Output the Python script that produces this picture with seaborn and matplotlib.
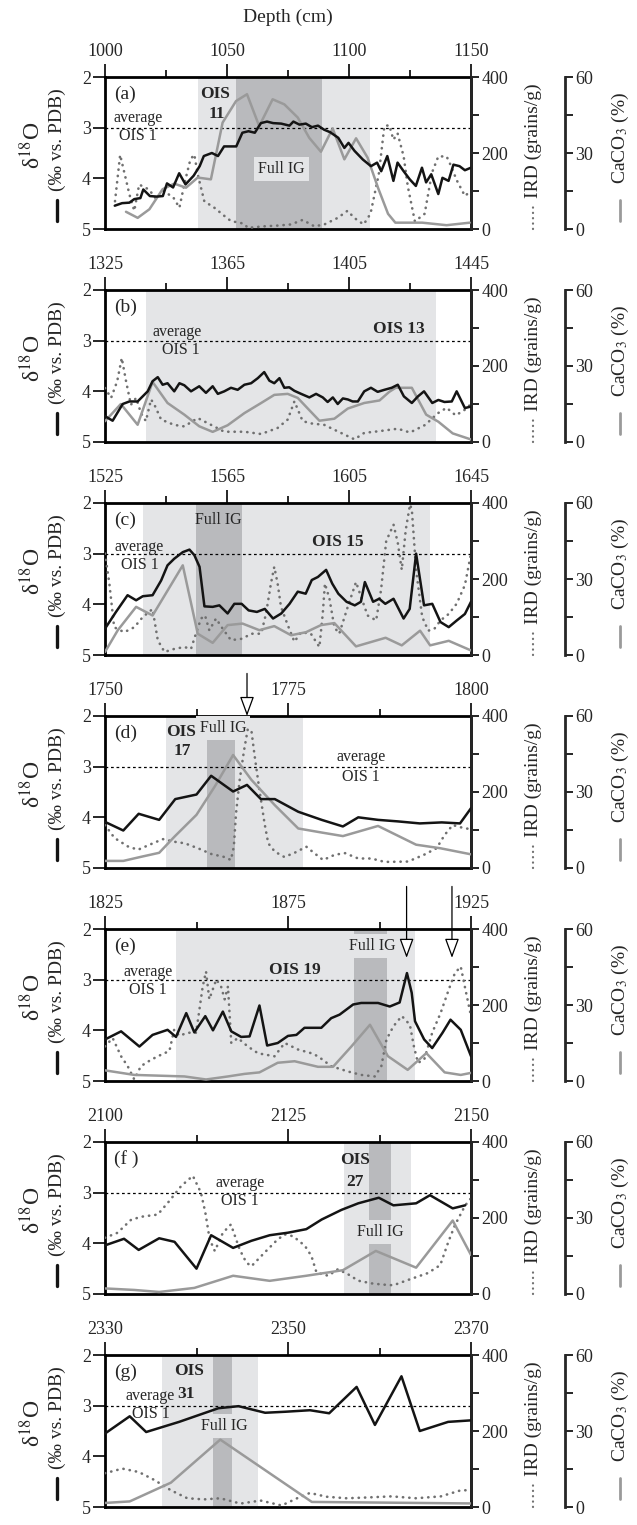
import matplotlib
matplotlib.use("Agg")
import matplotlib.pyplot as plt
import seaborn as sns

# ===== DATA =====
avg_ois1 = 3.0  # average OIS 1 d18O

# --- panel (a)
d18_depth_a = [1004, 1007, 1010, 1012, 1014.5, 1015.7, 1018.4, 1021.2, 1023.7, 1025.4, 1027.9, 1030.4, 1033,
               1036.3, 1038.8, 1040.5, 1043.8, 1046.3, 1048.8, 1053.8, 1056.3, 1058.8, 1061.4, 1063.9, 1066.4,
               1068.9, 1072.2, 1075.6, 1077.2, 1079.7, 1082.3, 1084.8, 1087.3, 1089.8, 1092.3, 1095.6, 1098.1,
               1099.8, 1102.3, 1105.7, 1109, 1111.5, 1113.2, 1115.7, 1118.2, 1119.9, 1122.4, 1124.9, 1127.4,
               1129.9, 1131.6, 1133.7, 1136.6, 1138.3, 1140.8, 1142.8, 1145.3, 1147.5, 1150]
d18_a = [4.54, 4.49, 4.48, 4.41, 4.39, 4.22, 4.35, 4.36, 4.35, 4.10, 4.18, 3.90, 4.12, 3.95, 3.76, 3.56, 3.50,
         3.56, 3.37, 3.37, 3.10, 3.07, 3.10, 2.91, 2.88, 2.91, 2.92, 2.96, 2.88, 2.94, 2.92, 2.99, 2.96, 3.04,
         3.09, 3.20, 3.40, 3.30, 3.46, 3.63, 3.76, 3.69, 3.86, 3.56, 4.05, 3.69, 3.86, 4.02, 4.15, 3.79, 4.08,
         3.92, 4.31, 3.99, 4.05, 3.73, 3.76, 3.84, 3.79]
cc_depth_a = [1008.6, 1013.4, 1018.2, 1023.6, 1028.4, 1033.2, 1038, 1043.4, 1048.2, 1053.7, 1058.2, 1063.2,
              1068.7, 1073.5, 1079, 1083.7, 1088.5, 1093.3, 1098.1, 1102.9, 1107.6, 1112, 1116, 1119, 1130,
              1140, 1149.5]
cc_a = [6.8, 4.4, 7.8, 15.7, 17.9, 16.3, 20.3, 19.6, 42, 50.5, 53.2, 40.6, 51.2, 49.2, 44, 36, 30.5, 39.7,
        27.5, 35.8, 28.2, 16, 6, 2.5, 2.5, 1.5, 2.5]
ird_depth_a = [1004.1, 1006.2, 1008.6, 1010, 1012, 1014, 1018, 1021, 1024, 1028, 1030.5, 1032.5, 1035, 1036.6,
               1038, 1040.7, 1044.8, 1049, 1051.6, 1057, 1058.5, 1065, 1070.8, 1076.2, 1081, 1085.8, 1089.9,
               1095.3, 1099.4, 1102.2, 1106, 1108.8, 1112.2, 1114.5, 1116.5, 1118.2, 1119.9, 1122.4, 1124.1,
               1127, 1131, 1134, 1136.6, 1140, 1141.6, 1144.1, 1147.5, 1150]
ird_a = [73, 195, 130, 91, 48, 117, 104, 79, 100, 83, 56, 118, 183, 196, 144, 73, 56, 34, 21, 14, 3, 7, 9, 12,
         24, 7, 12, 29, 48, 29, 12, 40, 144, 271, 273, 235, 252, 191, 112, 20, 40, 148, 191, 191, 169, 129,
         87, 100]
ois_a, full_a = (1038, 1108.5), (1053.5, 1089)

# --- panel (b)
d18_depth_b = [1325, 1327.5, 1330.8, 1333, 1335.7, 1339, 1340.6, 1342.3, 1343.9, 1345.5, 1347.7, 1349.4, 1351,
               1353.2, 1355.9, 1358.1, 1360.3, 1362, 1364.1, 1366.3, 1368.5, 1370.7, 1372.9, 1375.1, 1377.2,
               1378.9, 1380.5, 1382.2, 1383.8, 1385.4, 1387.1, 1389.3, 1392, 1394.2, 1396.4, 1398, 1399.7,
               1401.3, 1403, 1404.6, 1406.2, 1407.9, 1410, 1412.2, 1414.4, 1416.6, 1419, 1421, 1423, 1425.6,
               1427.6, 1429.6, 1432.3, 1434.3, 1436.3, 1438.7, 1440.3, 1443, 1445]
d18_b = [4.49, 4.58, 4.25, 4.20, 4.20, 4.0, 3.80, 3.72, 3.87, 3.84, 4.0, 3.84, 3.88, 4.0, 3.90, 4.03, 3.90,
         4.05, 4.0, 3.93, 3.97, 3.87, 3.84, 3.74, 3.62, 3.79, 3.84, 3.74, 3.93, 3.92, 3.99, 4.05, 4.12, 4.05,
         4.12, 4.21, 4.12, 4.25, 4.14, 4.16, 4.20, 4.20, 4.0, 3.93, 4.01, 3.97, 3.93, 3.87, 4.10, 4.23, 4.10,
         4.0, 4.23, 4.17, 4.21, 4.20, 4.0, 4.33, 4.30]
cc_depth_b = [1325, 1330.2, 1335.7, 1340.6, 1345.5, 1351, 1355.9, 1360.3, 1365.2, 1370.7, 1376.2, 1380.5,
              1384.9, 1388.2, 1391.5, 1395.3, 1400.2, 1404.6, 1410, 1415, 1418.2, 1420.3, 1425.6, 1430.3,
              1434.3, 1439, 1445]
cc_b = [8.2, 15, 6.8, 23.7, 15.4, 10.8, 6.2, 4, 6.6, 11.4, 15.4, 18.6, 19, 17.4, 13.2, 8.4, 9.2, 13.2, 15.4,
        16.4, 19.8, 21.4, 21.4, 10.8, 8, 3.4, 1]
ird_depth_b = [1325, 1327, 1329, 1330.5, 1331.9, 1333.5, 1335.2, 1336.8, 1338.4, 1340.1, 1341.2, 1343.4, 1347.7,
               1351, 1355.4, 1359.8, 1364.1, 1370.7, 1376.2, 1381.6, 1384.9, 1387.1, 1389.8, 1392.5, 1396.9,
               1401.3, 1406.8, 1410, 1414.4, 1418.2, 1421, 1425, 1430, 1434, 1437, 1440, 1443, 1445]
ird_b = [142, 116, 160, 221, 160, 98, 116, 76, 55, 112, 98, 59, 45, 41, 63, 45, 27, 27, 21, 37, 59, 107, 55,
         49, 45, 28, 7, 24, 28, 32, 35, 25, 45, 75, 90, 70, 85, 100]
ois_b, full_b = (1338.6, 1433.6), None

# --- panel (c)
d18_depth_c = [1525, 1528.6, 1532.4, 1535.2, 1537.4, 1540.6, 1543.4, 1545.5, 1547.7, 1550.5, 1552.7, 1554.3,
               1556, 1557.6, 1560.3, 1562.5, 1565.2, 1567.4, 1569.8, 1572.1, 1574.8, 1577.4, 1580.1, 1582.8,
               1585.5, 1588.2, 1590.8, 1592.8, 1594.8, 1597.5, 1599.5, 1601.5, 1604.2, 1606.9, 1608.9, 1610.2,
               1612.9, 1614.9, 1616.9, 1619.6, 1622.9, 1624.9, 1627, 1629.6, 1632.3, 1635, 1637.7, 1640.3,
               1643, 1645]
d18_c = [4.48, 4.15, 3.82, 3.92, 3.84, 3.82, 3.53, 3.23, 3.10, 2.97, 2.92, 3.03, 3.26, 4.04, 4.05, 4.02, 4.18,
         3.99, 3.99, 4.12, 4.15, 4.09, 4.28, 4.18, 3.99, 3.75, 3.79, 3.52, 3.46, 3.32, 3.59, 3.79, 3.95, 4.02,
         3.95, 3.56, 3.95, 3.89, 3.99, 3.89, 4.28, 4.09, 3.0, 4.02, 3.99, 4.35, 4.45, 4.32, 4.19, 3.95]
cc_depth_c = [1525, 1529.2, 1535.2, 1540.6, 1550.5, 1555.4, 1560.3, 1565.2, 1570.1, 1575.6, 1580.5, 1586,
              1590.9, 1595.8, 1600.2, 1607.3, 1617, 1622.3, 1628.3, 1631.6, 1637.7, 1645]
cc_c = [1.2, 9.8, 19, 15.6, 35.4, 8.4, 4.8, 11.8, 12.4, 9.8, 11.4, 7.8, 9, 11.8, 12.6, 3.4, 6.8, 3.8, 9.6, 3.8,
        5.6, 1.8]
ird_depth_c = [1525, 1526.4, 1528, 1531.3, 1534.6, 1537.4, 1540.6, 1542.3, 1544.5, 1547.7, 1551, 1553.2, 1554.8,
               1556.5, 1557.8, 1559.2, 1561.4, 1563.6, 1566.3, 1570.1, 1572.9, 1576.2, 1577.8, 1579.4, 1580.5,
               1581.6, 1582.7, 1584.9, 1587.1, 1589.3, 1592.5, 1595.3, 1596.4, 1597.1, 1598.6, 1600.2, 1601.8,
               1604.6, 1607.3, 1609, 1611.1, 1613.9, 1615.5, 1617.2, 1619.6, 1621, 1622.3, 1623.6, 1625,
               1625.6, 1627, 1629, 1631, 1633, 1635, 1637.7, 1640.3, 1643, 1645]
ird_c = [267, 190, 73, 60, 73, 100, 121, 39, 8, 16, 21, 16, 56, 96, 104, 65, 96, 69, 39, 43, 56, 56, 109, 188,
         232, 188, 127, 79, 35, 60, 56, 21, 109, 188, 148, 73, 56, 127, 192, 152, 104, 91, 171, 300, 343, 295,
         224, 329, 396, 383, 224, 100, 64, 69, 91, 108, 135, 184, 267]
ois_c, full_c = (1537.3, 1631.6), (1554.7, 1569.8)

# --- panel (d)
d18_depth_d = [1750, 1752.5, 1754.6, 1757.4, 1759.6, 1762.5, 1764.5, 1767.5, 1769.4, 1771.3, 1773.2, 1776.4,
               1779.6, 1782.5, 1784.6, 1787.3, 1790, 1793, 1796, 1798.5, 1800]
d18_d = [4.09, 4.26, 3.93, 4.05, 3.64, 3.55, 3.18, 3.49, 3.36, 3.64, 3.64, 3.89, 4.05, 4.18, 4.0, 4.05, 4.08,
         4.12, 4.10, 4.12, 3.82]
cc_depth_d = [1750, 1752.5, 1754.9, 1757.4, 1759.5, 1762.5, 1765, 1767.5, 1770, 1773.2, 1776.4, 1779.6, 1782.5,
              1787.3, 1792.5, 1795.8, 1800]
cc_d = [2.8, 2.8, 4.4, 6, 12.4, 21, 32.2, 44.6, 34.8, 24.8, 15.6, 14, 12.6, 16.6, 9.2, 7.8, 5.4]
ird_depth_d = [1750, 1751.3, 1753.1, 1754.5, 1756.3, 1757.9, 1759.5, 1760.9, 1762.7, 1764.5, 1766.3, 1767.2,
               1767.6, 1767.9, 1768.4, 1769, 1769.5, 1770, 1770.4, 1771.1, 1771.8, 1772.3, 1773.2, 1774.5,
               1775.9, 1777.5, 1778.6, 1779.8, 1781.4, 1782.8, 1784.6, 1786.4, 1788.2, 1791.4, 1793.6, 1795.3,
               1796.4, 1797.5, 1799.2, 1800]
ird_d = [113, 79, 57, 48, 63, 76, 69, 65, 52, 37, 29, 21, 56, 144, 232, 310, 365, 362, 301, 205, 117, 65, 43,
         29, 40, 56, 39, 21, 35, 39, 25, 25, 16, 17, 35, 52, 87, 113, 104, 103]
ois_d, full_d = (1758.4, 1777), (1763.9, 1767.7)

# --- panel (e)
d18_depth_e = [1825, 1829.4, 1834.4, 1838, 1842.1, 1844.4, 1847.2, 1849.4, 1852.4, 1854.5, 1857.2, 1859.5,
               1862.2, 1864.5, 1867.2, 1869.3, 1872.2, 1875, 1877.3, 1879.5, 1884.1, 1886.8, 1889.1, 1892.8,
               1895, 1899.6, 1902.8, 1905.5, 1907.5, 1908.8, 1909.7, 1912.2, 1914.4, 1917.2, 1919.4, 1922.2, 1925]
d18_e = [4.18, 4.02, 4.32, 4.09, 3.99, 4.13, 3.66, 4.04, 3.72, 4.0, 3.63, 4.02, 4.13, 4.12, 3.51, 4.30, 4.25,
         4.11, 4.09, 3.95, 3.95, 3.76, 3.69, 3.49, 3.46, 3.46, 3.53, 3.45, 2.87, 3.26, 3.82, 4.18, 4.35, 4.05,
         3.79, 3.99, 4.51]
cc_depth_e = [1825, 1833, 1837.6, 1846.7, 1852.6, 1858.6, 1863.1, 1867.2, 1872.2, 1876.8, 1883.2, 1887.3,
              1892.3, 1897.4, 1902.3, 1907.7, 1912.8, 1917.8, 1922.2, 1925]
cc_e = [4.2, 2.4, 2.2, 1.8, 0.6, 1.8, 2.8, 3.4, 7.2, 7.8, 5.6, 5.6, 13.6, 22.2, 9.8, 4.4, 11, 3.4, 2.4, 3.2]
ird_depth_e = [1825, 1827.1, 1829.4, 1831.2, 1833, 1834.8, 1837.6, 1840.3, 1842.6, 1843.9, 1845.3, 1847.6,
               1849.9, 1851.7, 1852.6, 1853.5, 1855.4, 1856.7, 1857.7, 1858.6, 1859.5, 1861.3, 1864, 1866.8,
               1871.3, 1874.1, 1877.7, 1881.4, 1883.2, 1886.8, 1891.4, 1895, 1898.7, 1900.5, 1901.9, 1903.8,
               1906.1, 1908.3, 1909.4, 1910.5, 1912.2, 1914.4, 1916.7, 1918.9, 1920.6, 1922.2, 1923.3, 1925]
ird_e = [91, 113, 65, 39, 4, 39, 56, 69, 79, 135, 119, 127, 127, 249, 288, 215, 267, 249, 215, 249, 100, 113,
         91, 73, 65, 100, 83, 73, 65, 39, 25, 16, 12, 39, 109, 144, 171, 148, 91, 48, 56, 127, 179, 240, 284,
         301, 249, 171]
ois_e, full_e = (1844.4, 1909.6), (1893, 1902)

# --- panel (f)
d18_depth_f = [2100, 2102.6, 2104.6, 2107.4, 2109.5, 2112.5, 2114.5, 2117.5, 2120, 2122.5, 2125, 2127.5,
               2129.6, 2132.3, 2134.6, 2137.4, 2139.4, 2142.5, 2144.4, 2147.5, 2149.2]
d18_f = [4.04, 3.91, 4.13, 3.90, 3.97, 4.5, 3.84, 4.09, 3.95, 3.84, 3.79, 3.72, 3.53, 3.34, 3.21, 3.10, 3.25,
         3.21, 3.05, 3.31, 3.25]
cc_depth_f = [2100, 2104, 2107.4, 2112.2, 2117.5, 2122.5, 2127.5, 2132.5, 2137, 2142.5, 2147.5, 2150]
cc_f = [2.2, 1.6, 0.8, 2.4, 7.2, 5.2, 7.2, 9.4, 17, 10.4, 29, 15.4]
ird_depth_f = [2100, 2101.7, 2103.6, 2105.2, 2107.2, 2108.8, 2110.4, 2112, 2113.1, 2113.7, 2114.3, 2115,
               2116.1, 2117.2, 2118.4, 2119.3, 2120, 2121.8, 2123.4, 2124.5, 2125.7, 2127.3, 2128.2, 2128.9,
               2130.5, 2131.8, 2133.2, 2134.6, 2136.4, 2137.8, 2139.4, 2141.4, 2144.1, 2145.8, 2146.9, 2147.8,
               2149.2, 2150]
ird_f = [148, 161, 196, 204, 209, 245, 284, 311, 267, 215, 144, 113, 161, 183, 117, 83, 73, 109, 140, 157, 152,
         127, 100, 56, 48, 65, 52, 35, 28, 25, 23, 37, 55, 76, 137, 181, 233, 252]
ois_f, full_f = (2132.6, 2141.8), (2136, 2139.1)

# --- panel (g)
d18_depth_g = [2330, 2332.7, 2334.5, 2338.1, 2342.4, 2344.6, 2347.5, 2349.7, 2352.4, 2354.5, 2357.5, 2359.5,
               2362.4, 2364.4, 2367.5, 2370]
d18_g = [3.55, 3.21, 3.52, 3.32, 3.05, 3.01, 3.14, 3.12, 3.09, 3.15, 2.63, 3.38, 2.42, 3.50, 3.32, 3.29]
cc_depth_g = [2330, 2332.7, 2337.2, 2342.6, 2352.6, 2370]
cc_g = [1.6, 2.2, 9.6, 26.6, 2, 1.4]
ird_depth_g = [2330, 2331.9, 2333.7, 2335.4, 2337.2, 2339, 2340.8, 2342.6, 2344.8, 2347, 2349.3, 2351, 2352.4,
               2354.2, 2356.4, 2358.6, 2361.3, 2364, 2366.7, 2368.9, 2370]
ird_g = [89, 101, 92, 71, 44, 23, 20, 23, 9, 17, 4, 23, 37, 27, 23, 25, 28, 23, 28, 44, 44]
ois_g, full_g = (2336.2, 2346.7), (2341.8, 2343.9)

# ===== STYLE / LAYOUT =====
sns.set_style("ticks")
plt.rcParams["font.family"] = ["Liberation Serif", "DejaVu Serif"]
plt.rcParams["mathtext.fontset"] = "stix"

FIG_W, FIG_H = 637, 1525          # pixels
AX_LEFT, AX_WIDTH = 105, 366
AX_TOP, AX_HEIGHT, AX_STEP = 77, 152, 213
CC_OFFSET = 94                    # CaCO3 spine right of the IRD spine

LIGHT, DARK = "#e4e5e7", "#b9babd"
BLACK, GREY, DOT = "#141414", "#9a9a9a", "#707070"
DOTTED = (0, (0.1, 2.3))
TICK_FS, LABEL_FS = 13, 14

note_style = {
    "avg": dict(fontsize=11.5),
    "ois": dict(fontsize=12.5, fontweight="bold"),
    "full": dict(fontsize=11.5),
    "fullbox": dict(fontsize=11.5, bbox=dict(boxstyle="square,pad=0.25", fc=LIGHT, ec="none")),
}

panels = [
    dict(tag="(a)", xlim=(1000, 1150), major=[1000, 1050, 1100, 1150], minor=[1025, 1075, 1125],
         d18=(d18_depth_a, d18_a), cc=(cc_depth_a, cc_a), ird=(ird_depth_a, ird_a), ois=ois_a, full=full_a,
         arrows=[],
         notes=[("average", 1013.4, 2.80, "avg"), ("OIS 1", 1013.4, 3.17, "avg"),
                ("OIS", 1045.2, 2.34, "ois"), ("11", 1046, 2.74, "ois"),
                ("Full IG", 1072.4, 3.82, "fullbox")]),
    dict(tag="(b)", xlim=(1325, 1445), major=[1325, 1365, 1405, 1445], minor=[1345, 1385, 1425],
         d18=(d18_depth_b, d18_b), cc=(cc_depth_b, cc_b), ird=(ird_depth_b, ird_b), ois=ois_b, full=full_b,
         arrows=[],
         notes=[("average", 1348.8, 2.82, "avg"), ("OIS 1", 1349.9, 3.18, "avg"),
                ("OIS 13", 1421.3, 2.77, "ois")]),
    dict(tag="(c)", xlim=(1525, 1645), major=[1525, 1565, 1605, 1645], minor=[1545, 1585, 1625],
         d18=(d18_depth_c, d18_c), cc=(cc_depth_c, cc_c), ird=(ird_depth_c, ird_c), ois=ois_c, full=full_c,
         arrows=[],
         notes=[("average", 1536.3, 2.87, "avg"), ("OIS 1", 1536.3, 3.23, "avg"),
                ("Full IG", 1562.2, 2.33, "full"), ("OIS 15", 1601.3, 2.77, "ois")]),
    dict(tag="(d)", xlim=(1750, 1800), major=[1750, 1775, 1800], minor=[1762.5, 1787.5],
         d18=(d18_depth_d, d18_d), cc=(cc_depth_d, cc_d), ird=(ird_depth_d, ird_d), ois=ois_d, full=full_d,
         arrows=[(1769.4, 2.0)],
         notes=[("OIS", 1760.4, 2.31, "ois"), ("17", 1760.6, 2.70, "ois"),
                ("Full IG", 1766.1, 2.24, "fullbox"),
                ("average", 1785, 2.80, "avg"), ("OIS 1", 1785, 3.20, "avg")]),
    dict(tag="(e)", xlim=(1825, 1925), major=[1825, 1875, 1925], minor=[1850, 1900],
         d18=(d18_depth_e, d18_e), cc=(cc_depth_e, cc_e), ird=(ird_depth_e, ird_e), ois=ois_e, full=full_e,
         arrows=[(1907.4, 2.57), (1919.8, 2.57)],
         notes=[("average", 1836.7, 2.84, "avg"), ("OIS 1", 1836.7, 3.20, "avg"),
                ("OIS 19", 1876.8, 2.80, "ois"), ("Full IG", 1897.9, 2.34, "fullbox")]),
    dict(tag="(f )", xlim=(2100, 2150), major=[2100, 2125, 2150], minor=[2112.5, 2137.5],
         d18=(d18_depth_f, d18_f), cc=(cc_depth_f, cc_f), ird=(ird_depth_f, ird_f), ois=ois_f, full=full_f,
         arrows=[],
         notes=[("average", 2118.4, 2.80, "avg"), ("OIS 1", 2118.4, 3.16, "avg"),
                ("OIS", 2134.1, 2.36, "ois"), ("27", 2134.1, 2.79, "ois"),
                ("Full IG", 2137.6, 3.77, "fullbox")]),
    dict(tag="(g)", xlim=(2330, 2370), major=[2330, 2350, 2370], minor=[2340, 2360],
         d18=(d18_depth_g, d18_g), cc=(cc_depth_g, cc_g), ird=(ird_depth_g, ird_g), ois=ois_g, full=full_g,
         arrows=[],
         notes=[("OIS", 2339.2, 2.31, "ois"), ("31", 2338.9, 2.77, "ois"),
                ("average", 2334.9, 2.80, "avg"), ("OIS 1", 2335.0, 3.16, "avg"),
                ("Full IG", 2343.0, 3.41, "fullbox")]),
]


# ===== ONE PANEL =====
def draw_panel(fig, k, p):
    top = AX_TOP + k * AX_STEP
    rect = [AX_LEFT / FIG_W, 1 - (top + AX_HEIGHT) / FIG_H, AX_WIDTH / FIG_W, AX_HEIGHT / FIG_H]
    ax = fig.add_axes(rect)
    ax_ird = ax.twinx()
    ax_cc = ax.twinx()
    ax_d18 = ax.twinx()

    # shading + reference line
    ax.axvspan(*p["ois"], color=LIGHT, lw=0, zorder=0)
    if p["full"] is not None:
        ax.axvspan(*p["full"], color=DARK, lw=0, zorder=0.5)
    ax.axhline(avg_ois1, color="black", lw=0.9, ls=(0, (2.2, 2.2)), zorder=1)

    # series
    sns.lineplot(x=p["ird"][0], y=p["ird"][1], ax=ax_ird, color=DOT, lw=1.9, linestyle=DOTTED,
                 dash_capstyle="round", estimator=None, sort=False, errorbar=None, legend=False)
    sns.lineplot(x=p["cc"][0], y=p["cc"][1], ax=ax_cc, color=GREY, lw=1.8,
                 estimator=None, sort=False, errorbar=None, legend=False)
    sns.lineplot(x=p["d18"][0], y=p["d18"][1], ax=ax_d18, color=BLACK, lw=1.8,
                 estimator=None, sort=False, errorbar=None, legend=False)

    # main axis: d18O (left) and depth (top)
    ax.set_xlim(*p["xlim"])
    ax.set_ylim(5, 2)
    ax.set_yticks([2, 3, 4, 5])
    ax.set_xticks(p["major"])
    ax.set_xticks(p["minor"], minor=True)
    ax.set_xticklabels([str(v) for v in p["major"]])
    ax.xaxis.tick_top()
    ax.tick_params(axis="x", which="major", direction="out", length=9.5, width=1.4, pad=3,
                   labelsize=TICK_FS, top=True, bottom=False, labeltop=True, labelbottom=False)
    ax.tick_params(axis="x", which="minor", direction="out", length=5, width=1.4, top=True, bottom=False)
    ax.tick_params(axis="y", which="major", direction="out", length=8.5, width=1.4, pad=1.5,
                   labelsize=TICK_FS, left=True, right=False)
    for s in ax.spines.values():
        s.set_linewidth(2.0)
        s.set_color("black")
    ax.set_xlabel("")
    ax.set_ylabel("")

    # top-most axis only carries the black curve
    ax_d18.set_ylim(5, 2)
    ax_d18.set_xlim(*p["xlim"])
    ax_d18.axis("off")

    # IRD axis
    ax_ird.set_ylim(0, 400)
    ax_ird.set_yticks([0, 200, 400])
    ax_ird.set_yticks([100, 300], minor=True)
    ax_ird.tick_params(axis="y", which="both", direction="out", length=6, width=1.4, pad=1.5,
                       labelsize=TICK_FS, right=True, left=False)
    for name in ["top", "bottom", "left"]:
        ax_ird.spines[name].set_visible(False)
    ax_ird.spines["right"].set_linewidth(2.0)
    ax_ird.set_ylabel("")

    # CaCO3 axis, offset to the right
    ax_cc.set_ylim(0, 60)
    ax_cc.set_yticks([0, 30, 60])
    ax_cc.set_yticks([15, 45], minor=True)
    ax_cc.spines["right"].set_position(("axes", 1 + CC_OFFSET / AX_WIDTH))
    ax_cc.spines["right"].set_bounds(0, 60)
    ax_cc.spines["right"].set_linewidth(2.0)
    for name in ["top", "bottom", "left"]:
        ax_cc.spines[name].set_visible(False)
    ax_cc.tick_params(axis="y", which="both", direction="out", length=6, width=1.4, pad=1.5,
                      labelsize=TICK_FS, right=True, left=False)
    ax_cc.set_ylabel("")

    # texts inside the panel
    ax.text(0.025, 0.885, p["tag"], transform=ax.transAxes, fontsize=LABEL_FS, va="center", ha="left")
    for txt, x, y, kind in p["notes"]:
        ax.text(x, y, txt, ha="center", va="center", zorder=3, **note_style[kind])

    # arrows above the panel
    for xa, tip in p["arrows"]:
        ax_d18.annotate("", xy=(xa, tip), xycoords="data", xytext=(xa, 1.28),
                        textcoords=("data", "axes fraction"), annotation_clip=False,
                        arrowprops=dict(arrowstyle="-|>,head_length=0.6,head_width=0.22", fc="white",
                                        ec="black", lw=0.9, shrinkA=0, shrinkB=0, mutation_scale=20))

    # axis titles with their line keys
    ax.text(-0.197, 0.55, "δ$^{18}$O", transform=ax.transAxes, rotation=90, fontsize=17,
            ha="center", va="center")
    ax.text(-0.131, 0.59, "(‰ vs. PDB)", transform=ax.transAxes, rotation=90, fontsize=LABEL_FS,
            ha="center", va="center")
    ax.plot([-0.131, -0.131], [0.05, 0.19], transform=ax.transAxes, clip_on=False, color=BLACK, lw=2.4)
    ax.text(1.169, 0.58, "IRD (grains/g)", transform=ax.transAxes, rotation=90, fontsize=LABEL_FS,
            ha="center", va="center")
    ax.plot([1.169, 1.169], [0.0, 0.16], transform=ax.transAxes, clip_on=False, color=DOT, lw=1.6,
            ls=DOTTED, dash_capstyle="round")
    ax.text(1.407, 0.6, "CaCO$_3$ (%)", transform=ax.transAxes, rotation=90, fontsize=LABEL_FS,
            ha="center", va="center")
    ax.plot([1.407, 1.407], [0.05, 0.19], transform=ax.transAxes, clip_on=False, color=GREY, lw=2.0)


# ===== FIGURE =====
fig = plt.figure(figsize=(FIG_W / 100, FIG_H / 100), dpi=100)
for k, p in enumerate(panels):
    draw_panel(fig, k, p)
fig.text((AX_LEFT + AX_WIDTH / 2) / FIG_W, 1 - 17 / FIG_H, "Depth (cm)", ha="center", va="center",
         fontsize=LABEL_FS)
fig.savefig("out.png", dpi=100)
